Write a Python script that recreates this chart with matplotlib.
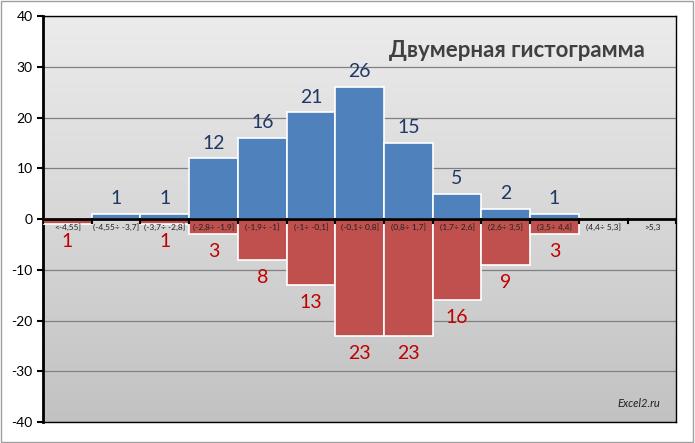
import numpy as np
import matplotlib.pyplot as plt
from matplotlib.patches import Rectangle

plt.rcParams['font.family'] = ['Lato', 'DejaVu Sans']
plt.rcParams['axes.unicode_minus'] = False

categories = ["<-4,55]", "(-4,55÷ -3,7]", "(-3,7÷ -2,8]", "(-2,8÷ -1,9]", "(-1,9÷ -1]",
              "(-1÷ -0,1]", "(-0,1÷ 0,8]", "(0,8÷ 1,7]", "(1,7÷ 2,6]", "(2,6÷ 3,5]",
              "(3,5÷ 4,4]", "(4,4÷ 5,3]", ">5,3"]
upper = [0, 1, 1, 12, 16, 21, 26, 15, 5, 2, 1, 0, 0]
lower = [1, 0, 1, 3, 8, 13, 23, 23, 16, 9, 3, 0, 0]

BLUE = "#4f81bd"
RED = "#c0504d"

fig = plt.figure(figsize=(6.95, 4.43), dpi=100)
fig.patch.set_facecolor("white")
fig.patches.append(Rectangle((0.002, 0.003), 0.995, 0.994, transform=fig.transFigure,
                             fill=False, edgecolor="#a0a0a0", linewidth=1))

ax = fig.add_axes([0.062, 0.047, 0.911, 0.917])

# gradient background
grad = np.linspace(0, 1, 256).reshape(-1, 1)
ax.imshow(grad, extent=[-0.5, len(categories) - 0.5, -40, 40], aspect="auto",
          cmap=plt.matplotlib.colors.LinearSegmentedColormap.from_list("g", ["#c2c2c2", "#ececec"]),
          origin="lower", zorder=0)

x = np.arange(len(categories))
up = np.array(upper)
lo = -np.array(lower)

ax.bar(x, up, width=1.0, color=BLUE, edgecolor="white", linewidth=1.2, zorder=3)
ax.bar(x, lo, width=1.0, color=RED, edgecolor="white", linewidth=1.2, zorder=3)

for i in range(len(categories)):
    if upper[i] > 0:
        ax.text(x[i], up[i] + 1.3, str(upper[i]), ha="center", va="bottom",
                fontsize=14, color="#1f3864", zorder=5)
    if lower[i] > 0:
        ax.text(x[i], lo[i] - 1.8, str(lower[i]), ha="center", va="top",
                fontsize=14, color="#c00000", zorder=5)
    ax.text(x[i], -0.9, categories[i], ha="center", va="top", fontsize=6,
            color="#202020", zorder=6)

ax.set_xlim(-0.5, len(categories) - 0.5)
ax.set_ylim(-40, 40)
ax.set_yticks(range(-40, 41, 10))
ax.tick_params(axis="y", labelsize=10, colors="black", length=4, width=1.5, direction="out")
ax.set_xticks([])
ax.yaxis.grid(True, color="#808080", linewidth=0.9, zorder=1)
ax.set_axisbelow(True)

# zero line with boundary ticks
ax.axhline(0, color="black", linewidth=2, zorder=4)
for b in np.arange(-0.5, len(categories), 1.0):
    ax.plot([b, b], [0, -0.8], color="black", linewidth=1.5, zorder=4)

for s in ["top", "right", "bottom"]:
    ax.spines[s].set_linewidth(1.0)
    ax.spines[s].set_color("black")
ax.spines["left"].set_linewidth(2)

ax.text(0.95, 0.915, "Двумерная гистограмма", transform=ax.transAxes, ha="right",
        va="center", fontsize=16, fontweight="bold", color="#404040", zorder=6)
ax.text(0.975, 0.045, "Excel2.ru", transform=ax.transAxes, ha="right", va="center",
        fontsize=8, style="italic", color="#202020", zorder=6)

fig.savefig("out.png", dpi=100)
